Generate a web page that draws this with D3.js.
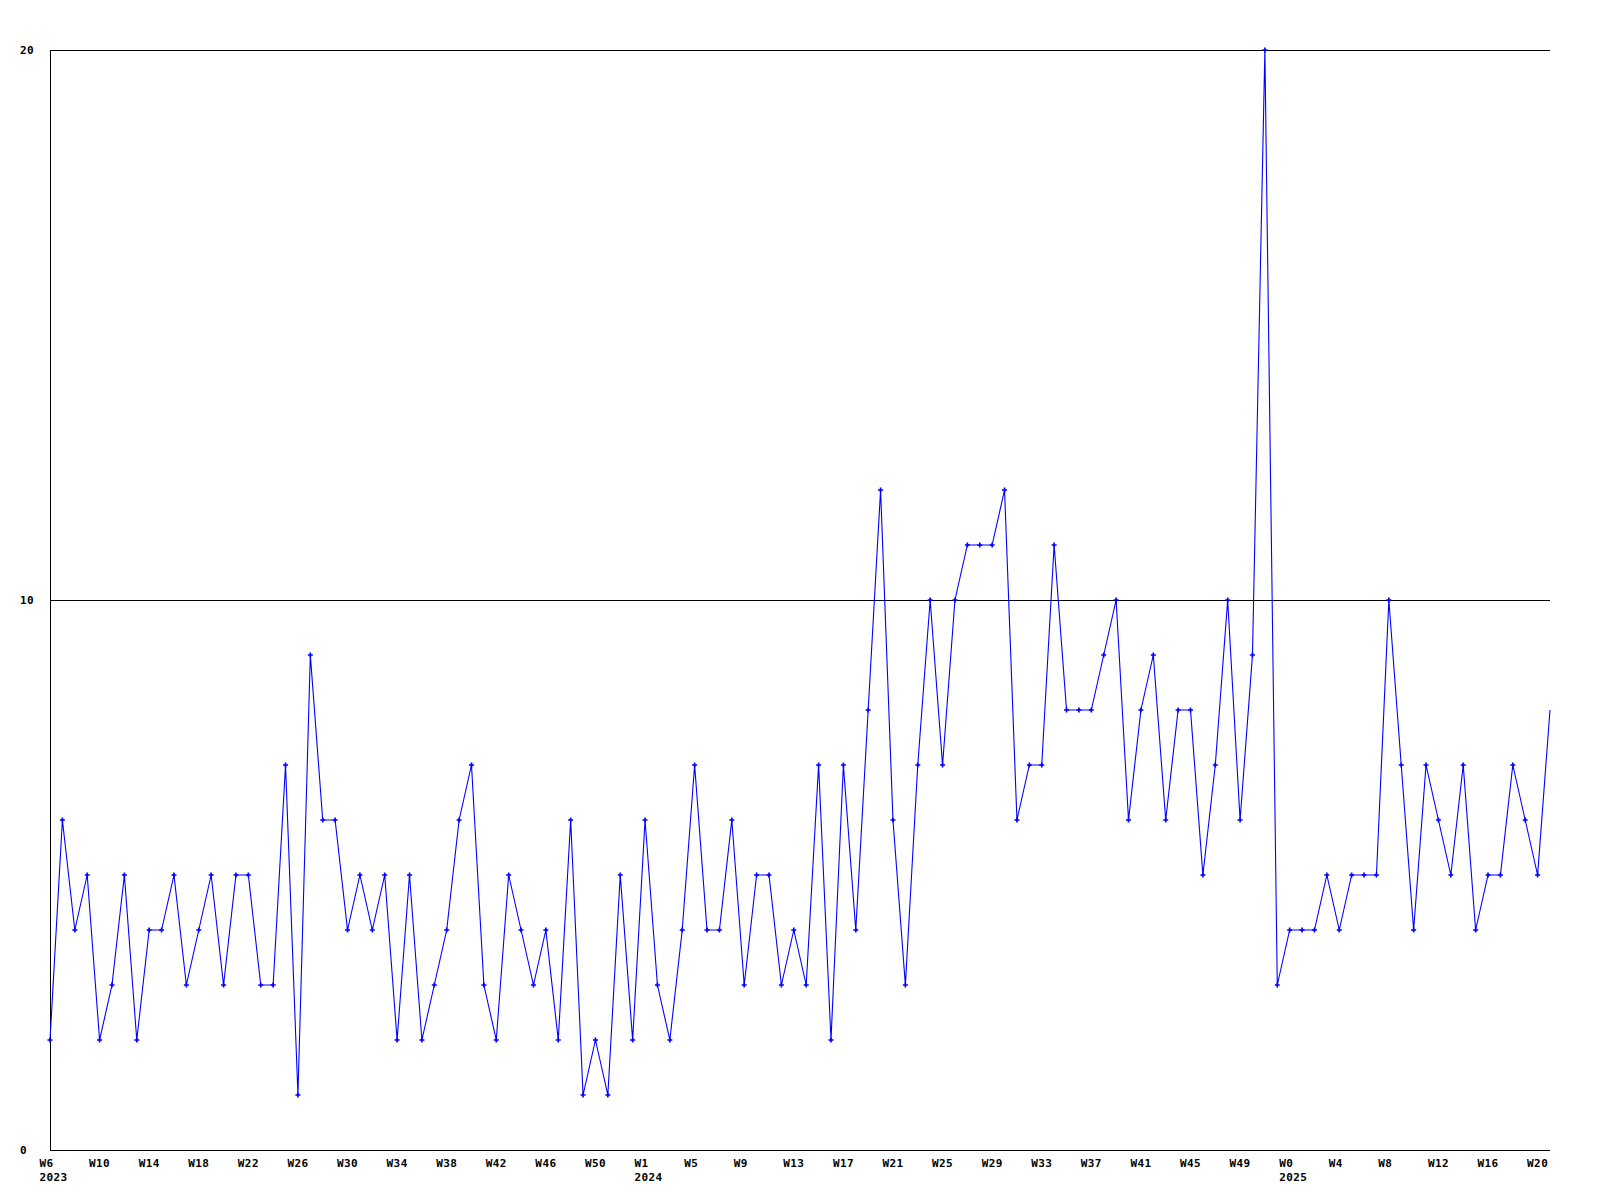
<!DOCTYPE html>
<html>
<head>
<meta charset="utf-8">
<script src="https://cdn.jsdelivr.net/npm/d3@7"></script>
<style>
  html, body { margin: 0; padding: 0; background: #ffffff; }
  svg { display: block; }
  .lbl { font-family: "DejaVu Sans Mono", monospace; font-weight: bold; font-size: 11px; letter-spacing: 0.4px; fill: #000; }
</style>
</head>
<body>
<div id="chart"></div>
<script>
// Weekly values, from 2023 W6 onward (one value per week)
const values = [
  2,6,4,5,2,3,5,2,4,4,5,3,4,5,3,5,5,3,3,7,1,9,6,6,4,5,4,5,2,5,2,3,4,
  6,7,3,2,5,4,3,4,2,6,1,2,1,5,2,6,3,2,4,7,4,4,6,3,5,5,3,4,3,7,2,7,
  4,8,12,6,3,7,10,7,10,11,11,11,12,6,7,7,11,8,8,8,9,10,6,8,9,6,8,8,5,7,10,6,
  9,20,3,4,4,4,5,4,5,5,5,10,7,4,7,6,5,7,4,5,5,7,6,5,8
];
// x tick labels, one every 4th week
const tickEvery = 4;
const tickLabels = [
  "W6","W10","W14","W18","W22","W26","W30","W34","W38","W42","W46","W50",
  "W1","W5","W9","W13","W17","W21","W25","W29","W33","W37","W41","W45","W49",
  "W0","W4","W8","W12","W16","W20"
];
// year labels under specific ticks
const yearTickIndex = [0, 12, 25];
const yearNames = ["2023", "2024", "2025"];
// y axis ticks
const yTicks = [0, 10, 20];

(function () {
  const W = 1600, H = 1200;
  const mLeft = 50, mRight = 1550, mTop = 50, mBottom = 1150;

  const svg = d3.select("#chart").append("svg")
    .attr("width", W).attr("height", H);

  const x = d3.scaleLinear().domain([0, values.length - 1]).range([mLeft, mRight]);
  const y = d3.scaleLinear().domain([0, 20]).range([mBottom, mTop]);

  // Gridlines (non-zero y ticks)
  svg.append("g").selectAll("line")
    .data(yTicks.filter(d => d > 0))
    .join("line")
    .attr("x1", mLeft).attr("x2", mRight)
    .attr("y1", d => Math.round(y(d)) + 0.5).attr("y2", d => Math.round(y(d)) + 0.5)
    .attr("stroke", "#000").attr("stroke-width", 1)
    .attr("shape-rendering", "crispEdges");

  // Axis lines
  svg.append("line")
    .attr("x1", mLeft + 0.5).attr("x2", mLeft + 0.5)
    .attr("y1", mTop).attr("y2", mBottom + 0.5)
    .attr("stroke", "#000").attr("shape-rendering", "crispEdges");
  svg.append("line")
    .attr("x1", mLeft).attr("x2", mRight)
    .attr("y1", mBottom + 0.5).attr("y2", mBottom + 0.5)
    .attr("stroke", "#000").attr("shape-rendering", "crispEdges");

  // Y labels
  svg.append("g").selectAll("text")
    .data(yTicks)
    .join("text")
    .attr("class", "lbl")
    .attr("x", 20)
    .attr("y", d => y(d) + 4)
    .text(d => d);

  // X labels
  svg.append("g").selectAll("text")
    .data(tickLabels)
    .join("text")
    .attr("class", "lbl")
    .attr("x", (d, i) => x(i * tickEvery) - 10.5)
    .attr("y", mBottom + 17)
    .text(d => d);

  svg.append("g").selectAll("text")
    .data(yearNames)
    .join("text")
    .attr("class", "lbl")
    .attr("x", (d, i) => x(yearTickIndex[i] * tickEvery) - 10.5)
    .attr("y", mBottom + 31)
    .text(d => d);

  // Clip for markers
  svg.append("defs").append("clipPath").attr("id", "plotclip")
    .append("rect").attr("x", mLeft - 5).attr("y", mTop - 5)
    .attr("width", mRight - mLeft + 2).attr("height", mBottom - mTop + 10);

  // Line
  const line = d3.line().x((d, i) => x(i)).y(d => y(d));
  svg.append("path")
    .datum(values)
    .attr("d", line)
    .attr("fill", "none")
    .attr("stroke", "#0000ff")
    .attr("stroke-width", 1.1);

  // Markers
  svg.append("g").attr("clip-path", "url(#plotclip)")
    .selectAll("path")
    .data(values.slice(0, -1))
    .join("path")
    .attr("transform", (d, i) => `translate(${x(i)},${y(d)})`)
    .attr("d", d3.symbol().type(d3.symbolCross).size(14))
    .attr("fill", "#0000ff");
})();
</script>
</body>
</html>
